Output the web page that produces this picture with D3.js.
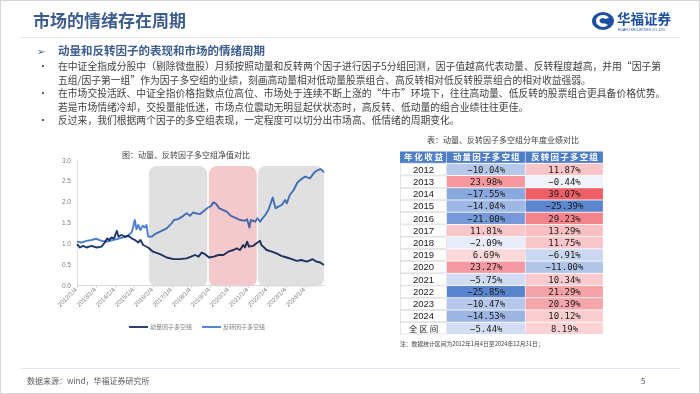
<!DOCTYPE html>
<html><head><meta charset="utf-8">
<script src="https://cdn.jsdelivr.net/npm/d3@7/dist/d3.min.js"></script>
<style>
html,body{margin:0;padding:0;background:#fff;}
svg{display:block;font-family:"Noto Sans CJK SC","Noto Sans",sans-serif;}
</style></head>
<body>
<script>
// ---------- data ----------
const pageTitle = "市场的情绪存在周期";
const heading = "动量和反转因子的表现和市场的情绪周期";
const bullets = [
  ["在中证全指成分股中（剔除微盘股）月频按照动量和反转两个因子进行因子5分组回测，因子值越高代表动量、反转程度越高，并用“因子第",
   "五组/因子第一组”作为因子多空组的业绩，刻画高动量相对低动量股票组合、高反转相对低反转股票组合的相对收益强弱。"],
  ["在市场交投活跃、中证全指价格指数点位高位、市场处于连续不断上涨的“牛市”环境下，往往高动量、低反转的股票组合更具备价格优势。",
   "若是市场情绪冷却，交投量能低迷，市场点位震动无明显起伏状态时，高反转、低动量的组合业绩往往更佳。"],
  ["反过来，我们根据两个因子的多空组表现，一定程度可以切分出市场高、低情绪的周期变化。"]
];
const chartTitle = "图：动量、反转因子多空组净值对比";
const seriesNames = ["动量因子多空组", "反转因子多空组"];
const xTickLabels = ["2012/1/4","2013/1/4","2014/1/4","2015/1/4","2016/1/4","2017/1/4","2018/1/4",
                     "2019/1/4","2020/1/4","2021/1/4","2022/1/4","2023/1/4","2024/1/4"];
const yTicks = [0, 0.5, 1.0, 1.5, 2.0, 2.5, 3.0];
const momentum = [
  ["2012-01-04",0.98],["2012-03-01",0.90],["2012-05-01",0.94],["2012-07-05",0.90],["2012-10-08",0.94],
  ["2013-01-15",0.90],["2013-04-20",0.92],["2013-06-20",1.02],["2013-08-08",1.12],["2013-09-12",1.08],
  ["2013-10-28",1.14],["2013-12-15",1.12],["2014-02-08",1.30],["2014-03-12",1.16],["2014-05-10",1.20],
  ["2014-07-15",1.16],["2014-09-15",1.18],["2014-11-18",1.12],["2015-01-20",1.08],["2015-03-26",1.02],
  ["2015-05-08",1.08],["2015-06-28",0.96],["2015-10-01",0.90],["2016-01-04",0.80],["2016-05-18",0.74],
  ["2016-09-22",0.66],["2017-01-28",0.62],["2017-05-28",0.62],["2017-10-10",0.64],["2018-01-04",0.68],
  ["2018-03-18",0.72],["2018-05-28",0.68],["2018-07-25",0.78],["2018-09-28",0.74],["2018-12-15",0.66],
  ["2019-03-15",0.68],["2019-06-15",0.72],["2019-09-15",0.72],["2019-12-20",0.80],["2020-03-28",0.84],
  ["2020-05-28",0.88],["2020-07-30",0.84],["2020-10-01",0.96],["2020-11-03",0.90],["2020-12-15",1.04],
  ["2021-01-20",0.92],["2021-04-12",0.94],["2021-06-15",1.00],["2021-08-20",1.06],["2021-09-15",0.96],
  ["2021-10-20",0.92],["2021-12-25",0.84],["2022-04-03",0.80],["2022-07-03",0.76],["2022-10-03",0.70],
  ["2023-01-15",0.66],["2023-04-22",0.62],["2023-07-25",0.58],["2023-10-20",0.60],["2024-02-08",0.56],
  ["2024-05-28",0.62],["2024-08-08",0.56],["2024-10-20",0.54],["2024-12-28",0.48]
];
const reversal = [
  ["2012-01-04",1.04],["2012-04-01",1.02],["2012-07-05",1.06],["2012-10-08",1.08],["2013-01-04",1.11],
  ["2013-04-20",1.06],["2013-08-08",1.04],["2013-11-25",1.08],["2014-04-06",1.12],["2014-08-08",1.16],
  ["2014-11-18",1.26],["2014-12-20",1.40],["2015-01-18",1.56],["2015-02-20",1.34],["2015-03-26",1.44],
  ["2015-05-08",1.32],["2015-06-18",1.42],["2015-07-30",1.38],["2015-08-30",1.44],["2015-10-01",1.16],
  ["2015-12-05",1.16],["2016-02-08",1.22],["2016-05-18",1.28],["2016-09-22",1.36],["2016-12-25",1.48],
  ["2017-02-08",1.56],["2017-05-01",1.58],["2017-08-08",1.66],["2017-10-10",1.72],["2017-12-15",1.66],
  ["2018-02-08",1.74],["2018-06-20",1.70],["2018-09-28",1.80],["2018-11-25",1.86],["2019-01-28",1.90],
  ["2019-03-05",1.98],["2019-04-20",1.96],["2019-07-01",1.84],["2019-11-18",1.76],["2020-02-08",1.66],
  ["2020-05-28",1.60],["2020-08-01",1.56],["2020-11-03",1.54],["2020-12-15",1.58],["2021-01-28",1.38],
  ["2021-02-25",1.56],["2021-05-18",1.52],["2021-07-01",1.60],["2021-08-20",1.52],["2021-11-28",1.68],
  ["2022-01-28",1.80],["2022-04-20",2.10],["2022-06-15",1.84],["2022-08-08",1.88],["2022-10-10",1.92],
  ["2022-12-15",2.04],["2023-01-15",1.96],["2023-03-15",2.16],["2023-05-28",2.28],["2023-08-08",2.46],
  ["2023-10-20",2.54],["2024-01-04",2.60],["2024-04-06",2.56],["2024-06-15",2.68],["2024-08-08",2.74],
  ["2024-10-20",2.78],["2024-11-25",2.76],["2024-12-28",2.70]
];
const regionStarts = ["2015-10-15","2018-12-12","2021-07-10"];
const regionEnds   = ["2018-11-10","2021-06-20","2024-12-31"];
const regionKinds  = ["low","high","low"];

const tableTitle = "表：动量、反转因子多空组分年度业绩对比";
const tableHeader = ["年化收益","动量因子多空组","反转因子多空组"];
const tableYears = ["2012","2013","2014","2015","2016","2017","2018","2019","2020","2021","2022","2023","2024","全区间"];
const momReturns = [-10.04,23.98,-17.55,-14.04,-21.00,11.81,-2.09,6.69,23.27,-5.75,-25.85,-10.47,-14.53,-5.44];
const revReturns = [11.87,-0.44,39.07,-25.39,29.23,13.29,11.75,-6.91,-11.00,10.34,21.29,20.39,10.12,8.19];
const tableNote = "注：数据统计区间为2012年1月4日至2024年12月31日；";
const sourceText = "数据来源：wind，华福证券研究所";
const pageNumber = "5";

// ---------- drawing ----------
const W = 700, H = 394;
const svg = d3.select("body").append("svg").attr("width", W).attr("height", H);
svg.append("rect").attr("x",0.5).attr("y",0.5).attr("width",W-1).attr("height",H-1)
  .attr("fill","#fff").attr("stroke","#d6d6d6");

const BLUE_T = "#3d5d8f";
svg.append("text").attr("x",33).attr("y",27).attr("font-size",17).attr("font-weight",700)
  .attr("fill",BLUE_T).text(pageTitle);
svg.append("line").attr("x1",20).attr("x2",680).attr("y1",37.5).attr("y2",37.5)
  .attr("stroke","#e6e6e6").attr("stroke-width",1);

// logo
const logo = svg.append("g").attr("transform","translate(603,21)");
logo.append("ellipse").attr("rx",11).attr("ry",9).attr("fill","#1c4f9f");
logo.append("path").attr("d","M6,-3 A7,6 0 1 0 5,4 L1,2 A3,2.6 0 1 1 2,-2 Z").attr("fill","#fff");
logo.append("circle").attr("cx",0.5).attr("cy",0.5).attr("r",2).attr("fill","#1c4f9f");
svg.append("text").attr("x",617).attr("y",24).attr("font-size",13.5).attr("font-weight",700)
  .attr("fill","#1c4f9f").attr("font-family","Noto Sans CJK SC").text("华福证券");
svg.append("text").attr("x",618).attr("y",31).attr("font-size",3.4).attr("fill","#1c4f9f")
  .attr("font-family","Liberation Sans").text("HUAFU SECURITIES CO.,LTD.");

// heading & bullets
svg.append("text").attr("x",37).attr("y",55).attr("font-size",10).attr("fill",BLUE_T).text("➢");
svg.append("text").attr("x",58).attr("y",55).attr("font-size",11.5).attr("font-weight",700)
  .attr("fill",BLUE_T).text(heading);
let ly = 70;
bullets.forEach(lines => {
  svg.append("text").attr("x",38).attr("y",ly).attr("font-size",10).attr("fill","#404040").text("•");
  lines.forEach(l => {
    svg.append("text").attr("x",58).attr("y",ly).attr("font-size",9.8).attr("fill","#404040").text(l);
    ly += 13.6;
  });
});

// ---------- line chart ----------
const parse = d3.timeParse("%Y-%m-%d");
const x = d3.scaleTime().domain([parse("2012-01-04"), parse("2024-12-31")]).range([77, 324]);
const y = d3.scaleLinear().domain([0, 3]).range([285, 160]);

svg.append("text").attr("x",186).attr("y",158).attr("text-anchor","middle").attr("font-size",8)
  .attr("fill","#404040").text(chartTitle);

// regions
const regions = regionStarts.map((s,i)=>({s:parse(s), e:parse(regionEnds[i]), k:regionKinds[i]}));
svg.append("g").selectAll("rect").data(regions).join("rect")
  .attr("x", d=>x(d.s)).attr("width", d=>x(d.e)-x(d.s))
  .attr("y", y(2.855)).attr("height", y(0) + 1.5 - y(2.855))
  .attr("rx",8).attr("ry",8)
  .attr("fill", d=> d.k==="high" ? "#f3c9cb" : "#e0e0e0");

// axes
const yAxis = d3.axisLeft(y).tickValues(yTicks).tickFormat(d3.format(".1f")).tickSize(0).tickPadding(6);
const gy = svg.append("g").attr("transform","translate(77,0)").call(yAxis);
gy.select(".domain").attr("stroke","#e3e3e3");
gy.selectAll("text").attr("font-size",6.5).attr("fill","#7f7f7f").attr("font-family","Liberation Sans");

const tickDates = xTickLabels.map(s => d3.timeParse("%Y/%m/%d")(s));
const xAxis = d3.axisBottom(x).tickValues(tickDates).tickFormat((d,i)=>xTickLabels[i]).tickSize(3).tickSizeOuter(0);
const gx = svg.append("g").attr("transform",`translate(0,${y(0)})`).call(xAxis);
gx.select(".domain").attr("stroke","#d9d9d9");
gx.selectAll(".tick line").attr("stroke","#d9d9d9");
gx.selectAll("text").attr("font-size",6.3).attr("fill","#7f7f7f").attr("font-family","Liberation Sans")
  .attr("text-anchor","end").attr("dy",0).attr("y",0)
  .attr("transform","translate(0,5) rotate(-45)");

// lines
const line = d3.line().x(d=>x(parse(d[0]))).y(d=>y(d[1]));
svg.append("path").datum(momentum).attr("d",line).attr("fill","none")
  .attr("stroke","#1f3a6d").attr("stroke-width",1.9).attr("stroke-linejoin","round")
  .style("mix-blend-mode","multiply");
svg.append("path").datum(reversal).attr("d",line).attr("fill","none")
  .attr("stroke","#4a80d2").attr("stroke-width",1.9).attr("stroke-linejoin","round")
  .style("mix-blend-mode","multiply");

// legend
const legColors = ["#1f3a6d","#4a80d2"];
const legX = [129, 202];
seriesNames.forEach((n,i)=>{
  svg.append("line").attr("x1",legX[i]).attr("x2",legX[i]+19).attr("y1",327).attr("y2",327)
    .attr("stroke",legColors[i]).attr("stroke-width",1.9);
  svg.append("text").attr("x",legX[i]+21).attr("y",329.2).attr("font-size",6).attr("fill","#7f7f7f").text(n);
});

// ---------- table ----------
svg.append("text").attr("x",503).attr("y",143).attr("text-anchor","middle").attr("font-size",8)
  .attr("fill","#404040").text(tableTitle);

const colEdges = [400, 447, 525.5, 603.5];
const rows = d3.scaleBand().domain(d3.range(tableYears.length + 1)).range([151.5, 334]).paddingInner(0.07);
const negColor = d3.scaleLinear().domain([-26, 0]).range(["#5883cf","#f3f5fc"]);
const posColor = d3.scaleLinear().domain([0, 39.07]).range(["#fef2f3","#ef5f68"]);
const cellColor = v => v < 0 ? negColor(v) : posColor(v);
const fmt = d3.format(".2f");

const tg = svg.append("g");
// header
tableHeader.forEach((h,j)=>{
  tg.append("rect").attr("x",colEdges[j]).attr("y",rows(0)).attr("width",colEdges[j+1]-colEdges[j]-0.6)
    .attr("height",rows.bandwidth()).attr("fill","#4d7ec6");
  tg.append("text").attr("x",(colEdges[j]+colEdges[j+1])/2 + (j===0 ? 0.8 : 0.6)).attr("y",rows(0)+rows.bandwidth()/2+3.1)
    .attr("text-anchor","middle").attr("font-size",8.5).attr("font-weight",700)
    .attr("letter-spacing", j===0 ? 1.6 : 1.2).attr("fill","#fff").text(h);
});
tableYears.forEach((yr,i)=>{
  const ry = rows(i+1), bh = rows.bandwidth();
  tg.append("rect").attr("x",colEdges[0]+0.3).attr("y",ry).attr("width",colEdges[1]-colEdges[0]-0.9)
    .attr("height",bh).attr("fill","#fff").attr("stroke","#d4d4d4").attr("stroke-width",0.6);
  const isAll = i === tableYears.length-1;
  tg.append("text").attr("x",(colEdges[0]+colEdges[1])/2 + (isAll ? 1 : 0)).attr("y",ry+bh/2+3.3).attr("text-anchor","middle")
    .attr("font-size", isAll ? 8.5 : 9.5).attr("letter-spacing", isAll ? 2 : 0)
    .attr("font-family", isAll ? "Noto Sans CJK SC" : "Liberation Sans")
    .attr("fill","#1a1a1a").text(yr);
  [momReturns[i], revReturns[i]].forEach((v,j)=>{
    tg.append("rect").attr("x",colEdges[j+1]).attr("y",ry).attr("width",colEdges[j+2]-colEdges[j+1]-0.6)
      .attr("height",bh).attr("fill",cellColor(v));
    tg.append("text").attr("x",(colEdges[j+1]+colEdges[j+2])/2).attr("y",ry+bh/2+3.2)
      .attr("text-anchor","middle").attr("font-size",9).attr("font-family","DejaVu Sans Mono")
      .attr("fill","#1a1a1a").text(fmt(v)+"%");
  });
});
svg.append("text").attr("x",400).attr("y",346).attr("font-size",5.8).attr("fill","#404040").text(tableNote);

// footer
svg.append("line").attr("x1",20).attr("x2",680).attr("y1",368.5).attr("y2",368.5)
  .attr("stroke","#dfe7f0").attr("stroke-width",1);
svg.append("text").attr("x",27).attr("y",384).attr("font-size",8).attr("fill","#595959").text(sourceText);
svg.append("text").attr("x",641).attr("y",384).attr("font-size",8).attr("fill","#595959").text(pageNumber);
</script>
</body></html>
